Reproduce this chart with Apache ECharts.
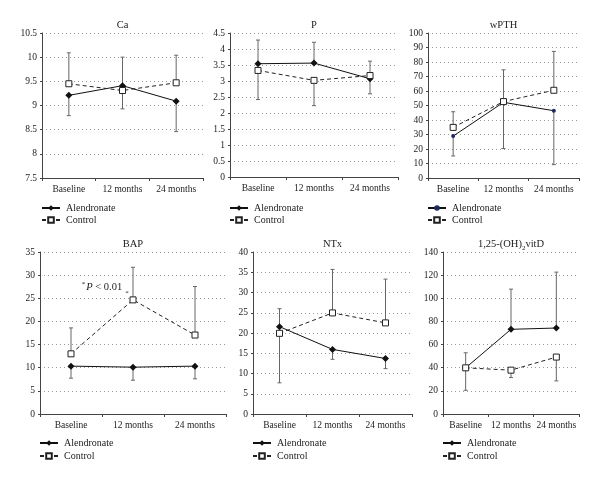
<!DOCTYPE html>
<html>
<head>
<meta charset="utf-8">
<script src="https://cdn.jsdelivr.net/npm/echarts@6/dist/echarts.min.js"></script>
<style>html,body{margin:0;padding:0;background:#fff;}#c{width:600px;height:483px;}</style>
</head>
<body>
<div id="c"></div>
<script>
// ---- data ----
const categories = ['Baseline', '12 months', '24 months'];
const panelTitles = ['Ca', 'P', 'wPTH', 'BAP', 'NTx', '1,25-(OH){s|2}vitD'];
const legendNames = ['Alendronate', 'Control'];

const caAlen = [9.21, 9.41, 9.09];
const caCtrl = [9.45, 9.31, 9.47];
const caAlenErr = [8.79, 10.0, 8.46];
const caCtrlErr = [10.09, 8.93, 10.04];

const pAlen = [3.54, 3.56, 3.07];
const pCtrl = [3.33, 3.02, 3.17];
const pAlenErr = [4.28, 4.21, 2.6];
const pCtrlErr = [2.42, 2.23, 3.62];

const pthAlen = [28.9, 52.2, 46.4];
const pthCtrl = [34.9, 52.7, 60.5];
const pthAlenErr = [15.2, 20.3, 9.2];
const pthCtrlErr = [45.7, 74.6, 87.3];

const bapAlen = [10.34, 10.12, 10.34];
const bapCtrl = [13.0, 24.66, 17.06];
const bapAlenErr = [7.74, 7.3, 7.6];
const bapCtrlErr = [18.6, 31.7, 27.55];

const ntxAlen = [21.57, 15.95, 13.7];
const ntxCtrl = [19.92, 24.96, 22.5];
const ntxAlenErr = [26.0, 13.5, 11.2];
const ntxCtrlErr = [7.7, 35.7, 33.3];

const vitAlen = [39.9, 73.2, 74.3];
const vitCtrl = [39.9, 37.9, 49.2];
const vitAlenErr = [52.9, 107.9, 122.6];
const vitCtrlErr = [20.5, 31.5, 28.6];

const yMin = [7.5, 0, 0, 0, 0, 0];
const yMax = [10.5, 4.5, 100, 35, 40, 140];
const yInterval = [0.5, 0.5, 10, 5, 5, 20];

const annotationText = '{st|*}{it|P}{n| < 0.01}';
const annotationStar = '*';

// ---- layout ----
const FONT = '"Liberation Serif", "Times New Roman", serif';
const grids = [
  {left: 42, top: 33, width: 161, height: 145},
  {left: 230, top: 33, width: 168, height: 144},
  {left: 428, top: 33, width: 151, height: 145},
  {left: 40, top: 252, width: 186, height: 162},
  {left: 253, top: 252, width: 159, height: 162},
  {left: 443, top: 252, width: 136, height: 162}
];
const panels = [
  [caAlen, caCtrl, caAlenErr, caCtrlErr],
  [pAlen, pCtrl, pAlenErr, pCtrlErr],
  [pthAlen, pthCtrl, pthAlenErr, pthCtrlErr],
  [bapAlen, bapCtrl, bapAlenErr, bapCtrlErr],
  [ntxAlen, ntxCtrl, ntxAlenErr, ntxCtrlErr],
  [vitAlen, vitCtrl, vitAlenErr, vitCtrlErr]
];

const chart = echarts.init(document.getElementById('c'), null, {renderer: 'canvas'});

const option = {
  animation: false,
  backgroundColor: '#fff',
  textStyle: {fontFamily: FONT},
  grid: [], xAxis: [], yAxis: [], series: [], title: [], legend: []
};

function errRender(params, api) {
  const p0 = api.coord([api.value(0), api.value(1)]);
  const p1 = api.coord([api.value(0), api.value(2)]);
  const st = {stroke: '#666', lineWidth: 1};
  return {type: 'group', children: [
    {type: 'line', shape: {x1: p0[0], y1: p0[1], x2: p1[0], y2: p1[1]}, style: st},
    {type: 'line', shape: {x1: p1[0] - 2, y1: p1[1], x2: p1[0] + 2, y2: p1[1]}, style: st}
  ]};
}

grids.forEach((g, i) => {
  option.grid.push(Object.assign({containLabel: false}, g));
  option.xAxis.push({
    type: 'category', gridIndex: i, data: categories, boundaryGap: true,
    axisLine: {lineStyle: {color: '#444', width: 1}},
    axisTick: {show: true, length: 3, lineStyle: {color: '#444'}},
    axisLabel: {interval: 0, color: '#222', fontSize: 9.5, fontFamily: FONT, margin: 6},
    splitLine: {show: false}
  });
  option.yAxis.push({
    type: 'value', gridIndex: i, min: yMin[i], max: yMax[i], interval: yInterval[i],
    axisLine: {show: true, lineStyle: {color: '#444', width: 1}},
    axisTick: {show: true, length: 2, lineStyle: {color: '#444'}},
    axisLabel: {color: '#222', fontSize: 9.5, fontFamily: FONT, margin: 5},
    splitLine: {show: true, lineStyle: {color: '#999', width: 1, type: [1, 3]}}
  });
  const [alen, ctrl, alenErr, ctrlErr] = panels[i];
  const isPTH = i === 2;
  option.series.push({
    type: 'custom', xAxisIndex: i, yAxisIndex: i, z: 1, silent: true,
    renderItem: errRender, encode: {x: 0, y: [1, 2]},
    data: alen.map((v, k) => [k, v, alenErr[k]])
  });
  option.series.push({
    type: 'custom', xAxisIndex: i, yAxisIndex: i, z: 1, silent: true,
    renderItem: errRender, encode: {x: 0, y: [1, 2]},
    data: ctrl.map((v, k) => [k, v, ctrlErr[k]])
  });
  option.series.push({
    name: legendNames[0] + '#' + i, type: 'line', xAxisIndex: i, yAxisIndex: i, z: 3,
    data: alen,
    symbol: isPTH ? 'circle' : 'diamond', symbolSize: isPTH ? 4 : 7,
    lineStyle: {color: '#111', width: 1, type: 'solid'},
    itemStyle: {color: isPTH ? '#1c2b5a' : '#111'}
  });
  option.series.push({
    name: legendNames[1] + '#' + i, type: 'line', xAxisIndex: i, yAxisIndex: i, z: 4,
    data: ctrl,
    symbol: 'rect', symbolSize: 6,
    lineStyle: {color: '#222', width: 1, type: [4, 3]},
    itemStyle: {color: '#fff', borderColor: '#222', borderWidth: 1}
  });
  const titleTop = i < 3 ? 17 : 236;
  option.title.push({
    text: panelTitles[i], left: g.left + g.width / 2, top: titleTop, textAlign: 'center', padding: 0,
    textStyle: {fontSize: 10.5, lineHeight: 16, fontWeight: 'normal', color: '#222', fontFamily: FONT,
      rich: {s: {fontSize: 7, lineHeight: 8, verticalAlign: 'bottom', fontFamily: FONT, color: '#222'}}}
  });
  option.legend.push({
    data: [legendNames[0] + '#' + i, legendNames[1] + '#' + i],
    formatter: n => n.split('#')[0],
    orient: 'vertical', left: g.left - 1, top: i < 3 ? 203 : 438,
    padding: 0, itemGap: i < 3 ? 2 : 3, itemWidth: 18, itemHeight: 7,
    selectedMode: false,
    textStyle: {fontSize: 10, color: '#222', fontFamily: FONT, padding: [0, 0, 0, 1]}
  });
});

chart.setOption(option);

// annotation anchored to BAP panel coordinates
const aPos = chart.convertToPixel({xAxisIndex: 3, yAxisIndex: 3}, [0, 27.3]);
const bPos = chart.convertToPixel({xAxisIndex: 3, yAxisIndex: 3}, [1, 24.66]);
const band = (grids[3].width / categories.length);
chart.setOption({
  graphic: [
    {type: 'text', x: aPos[0] + band / 2, y: aPos[1], style: {
      text: annotationText, align: 'center', verticalAlign: 'middle',
      font: '10.5px ' + FONT, fill: '#222',
      rich: {st: {fontSize: 7, lineHeight: 8, verticalAlign: 'top', fontFamily: FONT, fill: '#222', padding: [0, 1, 0, 0]},
             it: {fontStyle: 'italic', fontSize: 10.5, lineHeight: 14, fontFamily: FONT, fill: '#222'},
             n: {fontSize: 10.5, lineHeight: 14, fontFamily: FONT, fill: '#222'}}
    }},
    {type: 'text', x: bPos[0] - 6, y: bPos[1] - 7, style: {
      text: annotationStar, align: 'center', verticalAlign: 'middle',
      font: '7px ' + FONT, fill: '#222'
    }}
  ]
});
</script>
</body>
</html>
